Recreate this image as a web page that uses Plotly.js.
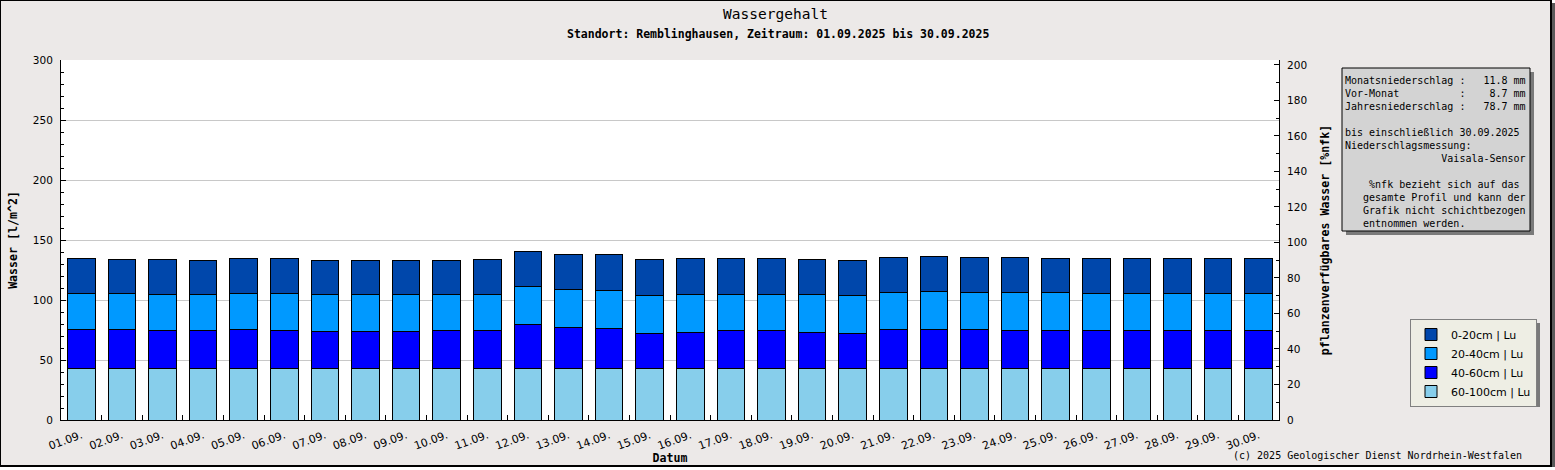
<!DOCTYPE html>
<html>
<head>
<meta charset="utf-8">
<script src="https://cdn.plot.ly/plotly-3.0.1.min.js"></script>
<style>
  html, body { margin: 0; padding: 0; background: #fff; }
  #chart {
    width: 1549px; height: 464px;
    border: 1px solid #000; border-right-width: 2px; border-bottom-width: 2px;
    box-shadow: 3px 3px 0 #5a5a5a;
  }
</style>
</head>
<body>
<div id="chart"></div>
<script>
// Tage im September 2025
const tage = ['01.09.', '02.09.', '03.09.', '04.09.', '05.09.', '06.09.', '07.09.', '08.09.', '09.09.', '10.09.',
              '11.09.', '12.09.', '13.09.', '14.09.', '15.09.', '16.09.', '17.09.', '18.09.', '19.09.', '20.09.',
              '21.09.', '22.09.', '23.09.', '24.09.', '25.09.', '26.09.', '27.09.', '28.09.', '29.09.', '30.09.'];

// Wassergehalt je Schicht [l/m^2]
const s60_100 = [43.1, 43.1, 43.1, 43.1, 43.1, 43.1, 43.1, 43.1, 43.1, 43.1,
                 43.1, 43.1, 43.1, 43.1, 43.1, 43.1, 43.1, 43.1, 43.1, 43.1,
                 43.1, 43.1, 43.1, 43.1, 43.1, 43.1, 43.1, 43.1, 43.1, 43.1];
const s40_60 = [32.5, 32.5, 31.6, 31.6, 32.5, 31.6, 30.8, 30.8, 31.0, 31.9,
                31.9, 36.6, 34.1, 33.3, 29.1, 30.0, 31.1, 31.1, 30.0, 29.1,
                32.5, 32.5, 32.5, 31.6, 31.6, 31.6, 31.6, 31.6, 31.6, 31.6];
const s20_40 = [30.0, 30.0, 30.0, 30.0, 30.0, 30.9, 30.8, 30.8, 30.6, 29.7,
                29.7, 31.7, 31.4, 31.4, 31.7, 31.6, 30.5, 30.5, 31.6, 31.7,
                30.8, 31.6, 30.8, 31.7, 31.7, 30.9, 30.9, 30.9, 30.9, 30.9];
const s0_20 = [29.1, 28.3, 29.2, 28.4, 29.1, 29.1, 28.4, 28.4, 28.4, 28.4,
               29.2, 29.2, 29.5, 30.3, 30.0, 30.0, 30.0, 30.0, 29.2, 29.2,
               29.2, 29.2, 29.2, 29.2, 28.3, 29.1, 29.1, 29.1, 29.1, 29.1];

const schichten = ['60-100cm | Lu', '40-60cm | Lu', '20-40cm | Lu', '0-20cm | Lu'];
const farben = ['#87CEEB', '#0000FF', '#0099FF', '#0047AB'];
const werte = [s60_100, s40_60, s20_40, s0_20];

// Infotext rechts oben
const infoZeilen = [
  'Monatsniederschlag :   11.8 mm',
  'Vor-Monat          :    8.7 mm',
  'Jahresniederschlag :   78.7 mm',
  ' ',
  'bis einschließlich 30.09.2025',
  'Niederschlagsmessung:',
  '                Vaisala-Sensor',
  ' ',
  '    %nfk bezieht sich auf das',
  '   gesamte Profil und kann der',
  '   Grafik nicht schichtbezogen',
  '   entnommen werden.'
];

const mono = 'DejaVu Sans Mono';
const nb = s => s.replace(/ /g, '\u00A0');

const traces = werte.map((w, i) => ({
  type: 'bar',
  name: schichten[i],
  x: tage,
  y: w,
  width: 0.68,
  marker: { color: farben[i], line: { color: '#000', width: 1 } },
  hoverinfo: 'skip'
}));

// leere Spur, damit die rechte Achse gezeichnet wird
traces.push({ type: 'scatter', x: [], y: [], yaxis: 'y2', showlegend: false, hoverinfo: 'skip' });

// Pixel -> paper
const px = X => (X - 61) / 1218;
const py = Y => (420 - Y) / 360;

const layout = {
  width: 1549,
  height: 464,
  margin: { l: 60, r: 271, t: 59, b: 45 },
  paper_bgcolor: '#ECE9E8',
  plot_bgcolor: '#FFFFFF',
  font: { family: 'DejaVu Sans', size: 10.5, color: '#000' },
  barmode: 'stack',
  showlegend: true,
  hovermode: false,
  title: {
    text: 'Wassergehalt',
    font: { family: mono, size: 14.5, color: '#000' },
    xref: 'container', x: 0.5, xanchor: 'center',
    yref: 'container', y: 1 - 13 / 464, yanchor: 'middle'
  },
  xaxis: {
    type: 'category',
    tickangle: -20,
    tickson: 'boundaries',
    ticks: 'inside', ticklen: 5, tickcolor: '#000',
    showline: true, linecolor: '#000', linewidth: 1,
    showgrid: false,
    ticklabelstandoff: 4,
    tickfont: { family: 'DejaVu Sans', size: 11 },
    title: { text: 'Datum', font: { family: mono, size: 11.6, weight: 'bold' }, standoff: 4 }
  },
  yaxis: {
    range: [0, 300], dtick: 50,
    ticks: 'inside', ticklen: 5, tickcolor: '#000',
    minor: { dtick: 10, ticks: 'inside', ticklen: 3, tickcolor: '#000', showgrid: false },
    showline: true, linecolor: '#000', linewidth: 1,
    showgrid: true, gridcolor: '#C8C8C8', zeroline: false,
    ticklabelstandoff: 5,
    title: { text: 'Wasser [l/m^2]', font: { family: mono, size: 11.6, weight: 'bold' }, standoff: 12 }
  },
  yaxis2: {
    overlaying: 'y', side: 'right',
    range: [0, 202.8], dtick: 20,
    ticks: 'inside', ticklen: 5, tickcolor: '#000',
    minor: { dtick: 10, ticks: 'inside', ticklen: 3, tickcolor: '#000', showgrid: false },
    showline: true, linecolor: '#000', linewidth: 1,
    showgrid: false, zeroline: false,
    ticklabelstandoff: 5,
    title: { text: 'pflanzenverfügbares Wasser [%nfk]', font: { family: mono, size: 11.6, weight: 'bold' }, standoff: 14 }
  },
  legend: {
    traceorder: 'reversed',
    x: px(1410), xanchor: 'left',
    y: py(319), yanchor: 'top',
    bgcolor: '#EEEEE4', bordercolor: '#808080', borderwidth: 1,
    font: { family: 'DejaVu Sans', size: 11, color: '#000' }
  },
  shapes: [
    // Schatten Infobox
    { type: 'rect', xref: 'paper', yref: 'paper', layer: 'below',
      x0: px(1346), x1: px(1534), y0: py(235), y1: py(72),
      fillcolor: '#7a7a7a', line: { width: 0 } },
    // Infobox
    { type: 'rect', xref: 'paper', yref: 'paper', layer: 'below',
      x0: px(1342), x1: px(1530), y0: py(231), y1: py(68),
      fillcolor: '#D3D3D3', line: { color: '#000', width: 1 } },
    // Schatten Legende
    { type: 'rect', xref: 'paper', yref: 'paper', layer: 'below',
      x0: px(1414), x1: px(1540), y0: py(407), y1: py(323),
      fillcolor: '#7a7a7a', line: { width: 0 } }
  ],
  annotations: [
    { text: 'Standort: Remblinghausen, Zeitraum: 01.09.2025 bis 30.09.2025',
      xref: 'paper', yref: 'paper', x: px(777.5), y: py(34), xanchor: 'center', yanchor: 'middle',
      showarrow: false, font: { family: mono, size: 11.5, weight: 'bold', color: '#000' } },
    { text: infoZeilen.map(nb).join('<br>'),
      xref: 'paper', yref: 'paper', x: px(1343), y: py(73), xanchor: 'left', yanchor: 'top',
      align: 'left', showarrow: false, font: { family: mono, size: 10, color: '#000' } },
    { text: '(c) 2025 Geologischer Dienst Nordrhein-Westfalen',
      xref: 'paper', yref: 'paper', x: px(1524), y: py(455), xanchor: 'right', yanchor: 'middle',
      showarrow: false, font: { family: mono, size: 10, color: '#000' } }
  ]
};

Plotly.newPlot('chart', traces, layout, { displayModeBar: false, staticPlot: true });
</script>
</body>
</html>
